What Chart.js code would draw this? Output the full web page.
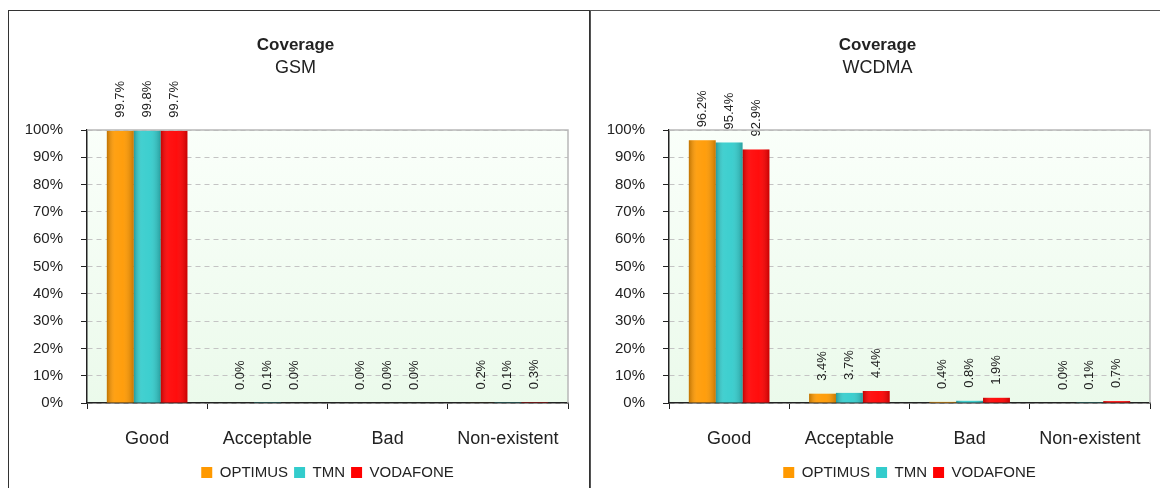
<!DOCTYPE html>
<html>
<head>
<meta charset="utf-8">
<script src="https://cdn.jsdelivr.net/npm/chart.js@4.4.1/dist/chart.umd.min.js"></script>
<style>
    body { margin: 0; background: #fff; width: 1160px; height: 488px; overflow: hidden; position: relative; }
    .panel { position: absolute; top: 10px; height: 490px; background: #fff; }
    #leftPanel { left: 8px; width: 580px; border: 1px solid #333; }
    #rightPanel { left: 590px; width: 580px; border: 1px solid #555; }
    canvas { display: block; }
</style>
</head>
<body>
<div class="panel" id="leftPanel"><canvas id="gsmChart" width="580" height="479"></canvas></div>
<div class="panel" id="rightPanel"><canvas id="wcdmaChart" width="580" height="479"></canvas></div>
<script>
const categories = ['Good', 'Acceptable', 'Bad', 'Non-existent'];
const operators = ['OPTIMUS', 'TMN', 'VODAFONE'];
const operatorColors = ['#ff9900', '#33cccc', '#ff0000'];

// GSM coverage (%)
const gsmOptimus = [99.7, 0.0, 0.0, 0.2];
const gsmTmn = [99.8, 0.1, 0.0, 0.1];
const gsmVodafone = [99.7, 0.0, 0.0, 0.3];

// WCDMA coverage (%)
const wcdmaOptimus = [96.2, 3.4, 0.4, 0.0];
const wcdmaTmn = [95.4, 3.7, 0.8, 0.1];
const wcdmaVodafone = [92.9, 4.4, 1.9, 0.7];

const yTickValues = [0, 10, 20, 30, 40, 50, 60, 70, 80, 90, 100];

const FONT = "'Liberation Sans', Arial, sans-serif";
const TEXT = '#222';

// plot background + frame
const plotArea = {
    id: 'plotArea',
    beforeDraw(chart) {
        const {ctx, chartArea: a} = chart;
        const g = ctx.createLinearGradient(0, a.top, 0, a.bottom);
        g.addColorStop(0, '#fafffa');
        g.addColorStop(1, '#ebfaeb');
        ctx.save();
        ctx.fillStyle = g;
        ctx.fillRect(a.left, a.top, a.right - a.left, a.bottom - a.top);
        ctx.restore();
    },
    afterDraw(chart) {
        const {ctx, chartArea: a} = chart;
        ctx.save();
        ctx.strokeStyle = '#b8b8b8';
        ctx.lineWidth = 1.5;
        ctx.beginPath();
        ctx.moveTo(a.left, a.top);
        ctx.lineTo(a.right, a.top);
        ctx.lineTo(a.right, a.bottom);
        ctx.stroke();
        ctx.restore();
    }
};

// cylinder-ish shading and rotated value labels
const barExtras = {
    id: 'barExtras',
    afterDatasetsDraw(chart) {
        const ctx = chart.ctx;
        ctx.save();
        chart.data.datasets.forEach((ds, i) => {
            const meta = chart.getDatasetMeta(i);
            meta.data.forEach((bar, j) => {
                const p = bar.getProps(['x', 'y', 'base', 'width'], true);
                const left = p.x - p.width / 2;
                if (p.base - p.y > 0.5) {
                    const g = ctx.createLinearGradient(left, 0, left + p.width, 0);
                    g.addColorStop(0, 'rgba(0,0,0,0.25)');
                    g.addColorStop(0.3, 'rgba(255,255,255,0.08)');
                    g.addColorStop(0.6, 'rgba(255,255,255,0.05)');
                    g.addColorStop(1, 'rgba(0,0,0,0.22)');
                    ctx.fillStyle = g;
                    ctx.fillRect(left, p.y, p.width, p.base - p.y);
                }
                ctx.save();
                ctx.translate(p.x, p.y - 13);
                ctx.rotate(-Math.PI / 2);
                ctx.font = '13px ' + FONT;
                ctx.fillStyle = TEXT;
                ctx.textAlign = 'left';
                ctx.textBaseline = 'middle';
                ctx.fillText(ds.data[j].toFixed(1) + '%', 0, 0);
                ctx.restore();
            });
        });
        ctx.restore();
    }
};

function makeChart(id, subtitle, series) {
    return new Chart(document.getElementById(id), {
        type: 'bar',
        data: {
            labels: categories,
            datasets: operators.map((name, i) => ({
                label: name,
                data: series[i],
                backgroundColor: operatorColors[i],
                borderWidth: 0,
                categoryPercentage: 0.67,
                barPercentage: 1.0
            }))
        },
        options: {
            responsive: false,
            animation: false,
            layout: {padding: {left: 14, right: 21, top: 24, bottom: 0}},
            scales: {
                x: {
                    grid: {drawOnChartArea: false, drawTicks: true, tickLength: 6, tickColor: '#222', offset: true},
                    border: {display: true, color: '#222', width: 1.5},
                    ticks: {font: {family: FONT, size: 18}, color: TEXT, padding: 19, maxRotation: 0},
                    afterFit(scale) { scale.height = 56; }
                },
                y: {
                    min: 0,
                    max: 100,
                    afterBuildTicks(scale) { scale.ticks = yTickValues.map(v => ({value: v})); },
                    grid: {color: '#c4c4c4', tickColor: '#222', tickLength: 6, lineWidth: 1},
                    border: {display: true, color: '#222', width: 1.5, dash: [5, 4]},
                    ticks: {font: {family: FONT, size: 15}, color: TEXT, padding: 18, callback: v => v + '%'},
                    afterFit(scale) { scale.width = 64; }
                }
            },
            plugins: {
                title: {
                    display: true,
                    text: 'Coverage',
                    color: TEXT,
                    font: {family: FONT, size: 17, weight: 'bold', lineHeight: 1.2},
                    padding: {top: 0, bottom: 2}
                },
                subtitle: {
                    display: true,
                    text: subtitle,
                    color: TEXT,
                    font: {family: FONT, size: 18, lineHeight: 1.2},
                    padding: {top: 0, bottom: 51}
                },
                legend: {
                    position: 'bottom',
                    fullSize: false,
                    labels: {
                        font: {family: FONT, size: 15},
                        color: TEXT,
                        boxWidth: 11,
                        boxHeight: 11,
                        padding: 6
                    }
                },
                tooltip: {enabled: false}
            }
        },
        plugins: [plotArea, barExtras]
    });
}

makeChart('gsmChart', 'GSM', [gsmOptimus, gsmTmn, gsmVodafone]);
makeChart('wcdmaChart', 'WCDMA', [wcdmaOptimus, wcdmaTmn, wcdmaVodafone]);
</script>
</body>
</html>
